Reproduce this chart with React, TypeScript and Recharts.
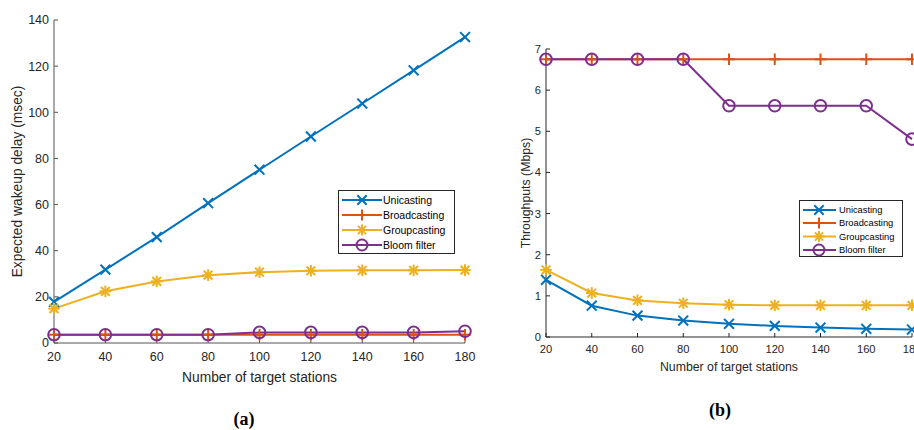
import { LineChart, Line, XAxis, YAxis, Legend } from "recharts";

const stations = [20, 40, 60, 80, 100, 120, 140, 160, 180];
const seriesNames = ["Unicasting", "Broadcasting", "Groupcasting", "Bloom filter"];
const seriesColors = ["#0072BD", "#D95319", "#EDB120", "#7E2F8E"];
const seriesMarkers = ["cross", "plus", "star", "circle"];

// (a) expected wakeup delay, msec
const delayUni = [17.8, 31.8, 45.9, 60.6, 75.1, 89.5, 103.8, 118.2, 132.6];
const delayBroad = [3.6, 3.6, 3.6, 3.6, 3.6, 3.6, 3.6, 3.6, 3.6];
const delayGroup = [14.9, 22.4, 26.7, 29.4, 30.7, 31.3, 31.5, 31.5, 31.6];
const delayBloom = [3.6, 3.6, 3.6, 3.6, 4.6, 4.6, 4.6, 4.6, 5.1];
const delayTicks = [0, 20, 40, 60, 80, 100, 120, 140];

// (b) throughputs, Mbps
const tputUni = [1.39, 0.76, 0.52, 0.4, 0.32, 0.27, 0.23, 0.2, 0.18];
const tputBroad = [6.75, 6.75, 6.75, 6.75, 6.75, 6.75, 6.75, 6.75, 6.75];
const tputGroup = [1.63, 1.07, 0.89, 0.82, 0.785, 0.77, 0.77, 0.77, 0.77];
const tputBloom = [6.75, 6.75, 6.75, 6.75, 5.62, 5.62, 5.62, 5.62, 4.81];
const tputTicks = [0, 1, 2, 3, 4, 5, 6, 7];

const keys = ["uni", "broad", "group", "bloom"];

const toRows = (cols: number[][]) =>
  stations.map((s, i) => ({
    n: s,
    uni: cols[0][i],
    broad: cols[1][i],
    group: cols[2][i],
    bloom: cols[3][i],
  }));

const delayData = toRows([delayUni, delayBroad, delayGroup, delayBloom]);
const tputData = toRows([tputUni, tputBroad, tputGroup, tputBloom]);

const FONT = "'Liberation Sans', Arial, Helvetica, sans-serif";

function Marker({ kind, cx, cy, color, r = 5 }: any) {
  const sw = 2;
  if (kind === "cross") {
    const d = r * 0.85;
    return (
      <g stroke={color} strokeWidth={sw} fill="none">
        <line x1={cx - d} y1={cy - d} x2={cx + d} y2={cy + d} />
        <line x1={cx - d} y1={cy + d} x2={cx + d} y2={cy - d} />
      </g>
    );
  }
  if (kind === "plus") {
    return (
      <g stroke={color} strokeWidth={sw} fill="none">
        <line x1={cx - r} y1={cy} x2={cx + r} y2={cy} />
        <line x1={cx} y1={cy - r} x2={cx} y2={cy + r} />
      </g>
    );
  }
  if (kind === "star") {
    const d = r * 0.75;
    return (
      <g stroke={color} strokeWidth={sw} fill="none">
        <line x1={cx - r} y1={cy} x2={cx + r} y2={cy} />
        <line x1={cx} y1={cy - r} x2={cx} y2={cy + r} />
        <line x1={cx - d} y1={cy - d} x2={cx + d} y2={cy + d} />
        <line x1={cx - d} y1={cy + d} x2={cx + d} y2={cy - d} />
      </g>
    );
  }
  return <circle cx={cx} cy={cy} r={r} stroke={color} strokeWidth={sw} fill="none" />;
}

function LegendBox({ w, h, lineW, markX, textX, rowY, fontSize }: any) {
  return (
    <svg width={w} height={h} style={{ display: "block" }}>
      <rect x={0.5} y={0.5} width={w - 1} height={h - 1} fill="#fff" stroke="#262626" strokeWidth={1} />
      {seriesNames.map((name, i) => {
        const y = rowY[i];
        return (
          <g key={name}>
            <line x1={4} y1={y} x2={4 + lineW} y2={y} stroke={seriesColors[i]} strokeWidth={2} />
            <Marker kind={seriesMarkers[i]} cx={markX} cy={y} color={seriesColors[i]} r={5.5} />
            <text x={textX} y={y} dy="0.35em" fontSize={fontSize} fontFamily={FONT} fill="#000">
              {name}
            </text>
          </g>
        );
      })}
    </svg>
  );
}

function Panel({ data, width, height, margin, yWidth, xHeight, yDomain, yTicks, yLabel, yLabelOffset, xLabelOffset, tickFont, labelFont, axisColor, tickMarginX, legend, legendPos, markR }: any) {
  return (
    <LineChart width={width} height={height} data={data} margin={margin}>
      <XAxis
        dataKey="n"
        type="number"
        domain={[20, 180]}
        ticks={stations}
        interval={0}
        height={xHeight}
        stroke={axisColor}
        tickSize={-4}
        tickMargin={tickMarginX}
        tick={{ fill: "#262626", fontSize: tickFont, fontFamily: FONT }}
        label={{ value: "Number of target stations", position: "insideBottom", offset: xLabelOffset, fill: "#262626", fontSize: labelFont, fontFamily: FONT }}
      />
      <YAxis
        type="number"
        domain={yDomain}
        ticks={yTicks}
        interval={0}
        width={yWidth}
        stroke={axisColor}
        tickSize={-4}
        tickMargin={9}
        tick={{ fill: "#262626", fontSize: tickFont, fontFamily: FONT }}
        label={{ value: yLabel, angle: -90, position: "insideLeft", offset: yLabelOffset, fill: "#262626", fontSize: labelFont, fontFamily: FONT, style: { textAnchor: "middle" } }}
      />
      {keys.map((k, i) => (
        <Line
          key={k}
          dataKey={k}
          name={seriesNames[i]}
          type="linear"
          stroke={seriesColors[i]}
          strokeWidth={2}
          isAnimationActive={false}
          dot={(p: any) => <Marker key={k + p.index} kind={seriesMarkers[i]} cx={p.cx} cy={p.cy} color={seriesColors[i]} r={markR} />}
          activeDot={false}
        />
      ))}
      <Legend
        layout="vertical"
        align="center"
        verticalAlign="middle"
        wrapperStyle={{ left: legendPos.left, top: legendPos.top, width: legendPos.width, height: legendPos.height }}
        content={() => legend}
      />
    </LineChart>
  );
}

export default function App() {
  return (
    <div style={{ position: "absolute", left: 0, top: 0, width: 914, height: 430, overflow: "hidden", background: "#fff" }}>
      <div style={{ position: "absolute", left: 0, top: 0 }}>
        <Panel
          data={delayData}
          width={480}
          height={392}
          margin={{ top: 20, right: 15, bottom: 0, left: 0 }}
          yWidth={54}
          xHeight={49}
          yDomain={[0, 140]}
          yTicks={delayTicks}
          yLabel="Expected wakeup delay (msec)"
          yLabelOffset={17}
          xLabelOffset={10}
          tickFont={12.5}
          labelFont={13.8}
          axisColor="#555"
          tickMarginX={13}
          markR={5.8}
          legendPos={{ left: 338, top: 190, width: 117, height: 64 }}
          legend={<LegendBox w={117} h={64} lineW={40} markX={24} textX={45} rowY={[10, 25, 40, 55]} fontSize={10.5} />}
        />
      </div>
      <div style={{ position: "absolute", left: 480, top: 0 }}>
        <Panel
          data={tputData}
          width={460}
          height={380}
          margin={{ top: 49, right: 28, bottom: 0, left: 0 }}
          yWidth={66}
          xHeight={43}
          yDomain={[0, 7]}
          yTicks={tputTicks}
          yLabel="Throughputs (Mbps)"
          yLabelOffset={46}
          xLabelOffset={9}
          tickFont={11.2}
          labelFont={12.3}
          axisColor="#262626"
          tickMarginX={12.5}
          markR={5.8}
          legendPos={{ left: 319, top: 200, width: 104, height: 57 }}
          legend={<LegendBox w={104} h={57} lineW={33} markX={20} textX={40} rowY={[10, 23, 36.5, 50]} fontSize={9.3} />}
        />
      </div>
      <div style={{ position: "absolute", left: 214, top: 409, width: 60, textAlign: "center", fontFamily: "'Liberation Serif', 'DejaVu Serif', serif", fontWeight: "bold", fontSize: 18 }}>
        (a)
      </div>
      <div style={{ position: "absolute", left: 690, top: 400, width: 60, textAlign: "center", fontFamily: "'Liberation Serif', 'DejaVu Serif', serif", fontWeight: "bold", fontSize: 18 }}>
        (b)
      </div>
    </div>
  );
}
